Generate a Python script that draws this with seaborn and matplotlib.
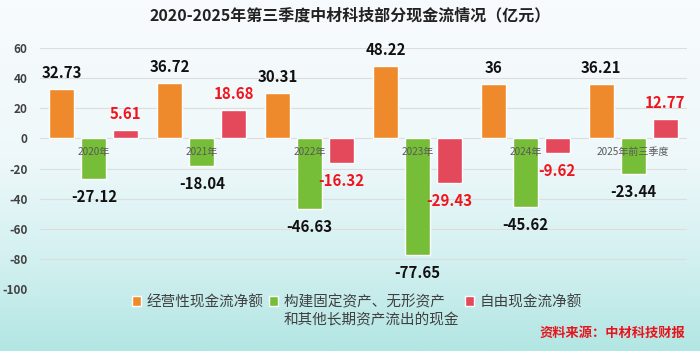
import numpy as np
import pandas as pd
import matplotlib
matplotlib.use("Agg")
import matplotlib.pyplot as plt
from matplotlib.colors import LinearSegmentedColormap
import seaborn as sns

years = ["2020年", "2021年", "2022年", "2023年", "2024年", "2025年前三季度"]
series = ["经营性现金流净额", "构建固定资产、无形资产", "自由现金流净额"]
operating = [32.73, 36.72, 30.31, 48.22, 36, 36.21]
capex = [-27.12, -18.04, -46.63, -77.65, -45.62, -23.44]
free_cf = [5.61, 18.68, -16.32, -29.43, -9.62, 12.77]
value_text = [
    ["32.73", "36.72", "30.31", "48.22", "36", "36.21"],
    ["-27.12", "-18.04", "-46.63", "-77.65", "-45.62", "-23.44"],
    ["5.61", "18.68", "-16.32", "-29.43", "-9.62", "12.77"],
]
yticks = [60, 40, 20, 0, -20, -40, -60, -80, -100]

colors = ["#EE8A2B", "#77BE38", "#E4485B"]
label_colors = ["#111111", "#111111", "#F0141E"]

sns.set_theme(style="white")
plt.rcParams["font.family"] = ["Noto Sans CJK SC", "DejaVu Sans"]

df = pd.DataFrame({
    "year": years * 3,
    "series": [series[0]] * 6 + [series[1]] * 6 + [series[2]] * 6,
    "value": operating + capex + free_cf,
})

fig = plt.figure(figsize=(7, 3.51), dpi=100)

# background gradient
bg = fig.add_axes([0, 0, 1, 1], zorder=-10)
cmap = LinearSegmentedColormap.from_list(
    "bg", [(0, "#F8FBFD"), (0.45, "#EEF8FA"), (0.75, "#D2F0F0"), (1, "#B2E6E3")])
bg.imshow(np.linspace(0, 1, 256).reshape(-1, 1), aspect="auto", cmap=cmap,
          extent=[0, 1, 0, 1])
bg.set_axis_off()

ax = fig.add_axes([40 / 700, 1 - 289 / 351, 647 / 700, 241 / 351])
ax.set_facecolor("none")

sns.barplot(data=df, x="year", y="value", hue="series", palette=colors,
            width=0.89, gap=0.22, ax=ax, saturation=1, zorder=3)

ax.set_ylim(-100, 60)
ax.set_xlim(-0.5, 5.5)
ax.set_yticks(yticks)
ax.set_yticklabels([str(t) for t in yticks], fontsize=8.5, fontweight="bold",
                   color="#404040")
ax.tick_params(axis="y", length=0, pad=9)
ax.set_xticks([])
ax.set_xlabel("")
ax.set_ylabel("")
for s in ax.spines.values():
    s.set_visible(False)
for t in yticks:
    ax.axhline(t, color="#DDDDDD", lw=0.8, zorder=1)

# value labels
for k, cont in enumerate(ax.containers):
    for j, bar in enumerate(cont):
        v = bar.get_height()
        x = bar.get_x() + bar.get_width() / 2
        off = 11.5 if v >= 0 else -13
        ax.annotate(value_text[k][j], (x, v), xytext=(0, off),
                    textcoords="offset points", ha="center", va="center",
                    fontsize=10.8, fontweight="bold", color=label_colors[k],
                    zorder=5)

# category labels along zero line
for i, yr in enumerate(years):
    ax.annotate(yr, (i, 0), xytext=(0, -10), textcoords="offset points",
                ha="center", va="center", fontsize=7.2, color="#595959",
                zorder=6)

handles, labels = ax.get_legend_handles_labels()
ax.legend_.remove()
leg = fig.legend(handles, [series[0], series[1] + "\u3000", series[2]],
                 loc="center left", bbox_to_anchor=(132 / 700, 1 - 302 / 351),
                 ncol=3, frameon=False, fontsize=10.5, handlelength=0.6,
                 handleheight=0.6, handletextpad=0.4, columnspacing=0.4,
                 borderpad=0, borderaxespad=0)
for t in leg.get_texts():
    t.set_color("#404040")

fig.canvas.draw()
ext = leg.get_texts()[1].get_window_extent()
fig.text(ext.x0 / fig.bbox.width, 1 - 320 / 351, "和其他长期资产流出的现金",
         fontsize=10.5, color="#404040", ha="left", va="center")

fig.text(0.5, 1 - 15 / 351, "2020-2025年第三季度中材科技部分现金流情况（亿元）",
         ha="center", va="center", fontsize=11.5, fontweight="bold",
         color="#222222")
fig.text(685 / 700, 1 - 333 / 351, "资料来源：中材科技财报", ha="right",
         va="center", fontsize=9.5, fontweight="bold", color="#E8141C")

fig.savefig("out.png", dpi=100)
